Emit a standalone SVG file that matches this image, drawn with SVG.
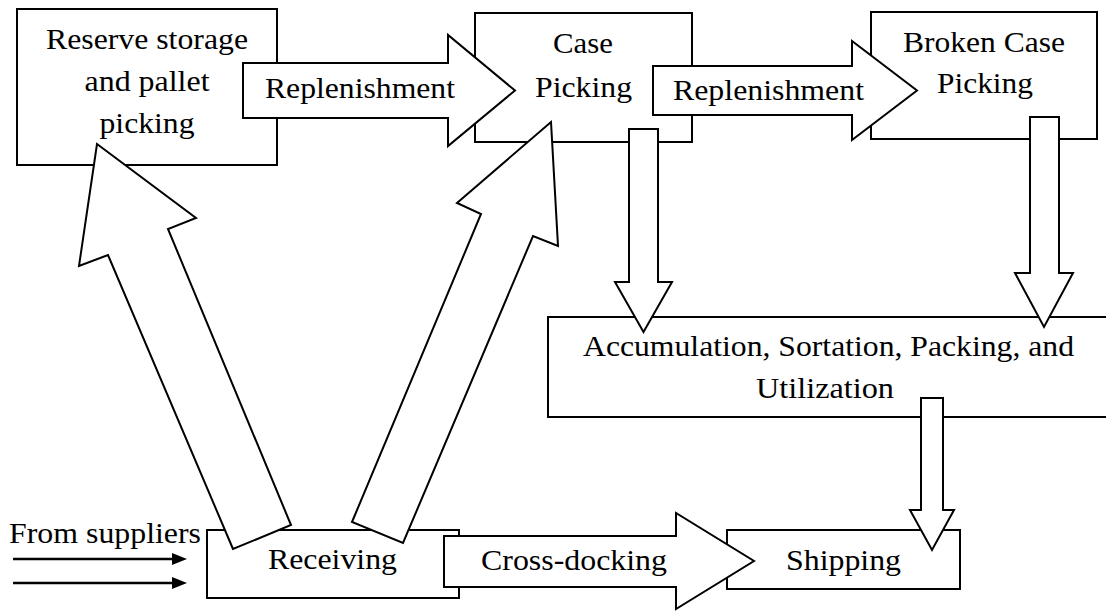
<svg xmlns="http://www.w3.org/2000/svg" width="1106" height="612" viewBox="0 0 1106 612">
<style>
.box{fill:#fff;stroke:#000;stroke-width:2}
.arr{fill:#fff;stroke:#000;stroke-width:2;stroke-linejoin:miter}
.t{font-family:"Liberation Serif","Times New Roman",serif;font-size:30px;fill:#000}
.feed{stroke:#000;stroke-width:2.5;fill:none}
</style>
<defs>
<marker id="ah" viewBox="0 0 15 12" refX="0" refY="6" markerWidth="15" markerHeight="12" markerUnits="userSpaceOnUse" orient="auto">
<path d="M0,0 L15,6 L0,12 Z" fill="#000"/>
</marker>
</defs>
<g id="reserve">
<rect class="box" x="17" y="9" width="260" height="156"/>
<text class="t" x="46" y="49" textLength="202" lengthAdjust="spacingAndGlyphs">Reserve storage</text>
<text class="t" x="84.5" y="91" textLength="125" lengthAdjust="spacingAndGlyphs">and pallet</text>
<text class="t" x="99.5" y="133" textLength="95" lengthAdjust="spacingAndGlyphs">picking</text>
</g>
<g id="case">
<rect class="box" x="475" y="13" width="217" height="129"/>
<text class="t" x="553" y="53" textLength="60" lengthAdjust="spacingAndGlyphs">Case</text>
<text class="t" x="535" y="97" textLength="97" lengthAdjust="spacingAndGlyphs">Picking</text>
</g>
<g id="broken">
<rect class="box" x="871" y="12" width="226" height="127"/>
<text class="t" x="903" y="52" textLength="162" lengthAdjust="spacingAndGlyphs">Broken Case</text>
<text class="t" x="937" y="93" textLength="96" lengthAdjust="spacingAndGlyphs">Picking</text>
</g>
<g id="accum">
<rect class="box" x="548" y="317" width="570" height="100"/>
<text class="t" x="583" y="356" textLength="491" lengthAdjust="spacingAndGlyphs">Accumulation, Sortation, Packing, and</text>
<text class="t" x="756" y="398" textLength="138" lengthAdjust="spacingAndGlyphs">Utilization</text>
</g>
<g id="receiving">
<rect class="box" x="207" y="530" width="252" height="68"/>
<text class="t" x="268" y="569" textLength="129" lengthAdjust="spacingAndGlyphs">Receiving</text>
</g>
<g id="shipping">
<rect class="box" x="727" y="530" width="233" height="59"/>
<text class="t" x="786" y="570" textLength="115" lengthAdjust="spacingAndGlyphs">Shipping</text>
</g>
<g id="suppliers">
<text class="t" x="9" y="543" textLength="192" lengthAdjust="spacingAndGlyphs">From suppliers</text>
</g>
<g id="connectors">
<line class="feed" x1="13" y1="559" x2="172" y2="559" marker-end="url(#ah)"/>
<line class="feed" x1="13" y1="583" x2="172" y2="583" marker-end="url(#ah)"/>
<polygon class="arr" points="243,63 448,63 448,35 515,90.5 448,146 448,118 243,118"/>
<text class="t" x="265" y="98" textLength="190" lengthAdjust="spacingAndGlyphs">Replenishment</text>
<polygon class="arr" points="653,66 852,66 852,41 917,90.5 852,140 852,115 653,115"/>
<text class="t" x="673" y="100" textLength="191" lengthAdjust="spacingAndGlyphs">Replenishment</text>
<polygon class="arr" points="629,129 658,129 658,282 672,282 643.5,332 615,282 629,282"/>
<polygon class="arr" points="1030,117 1059,117 1059,273 1073,273 1044,327 1015,273 1030,273"/>
<polygon class="arr" points="921,398 943,398 943,510 954,510 932,550 910,510 921,510"/>
<polygon class="arr" points="233,549 108,255 79,266 97,144 196,218 168,229 291,525"/>
<polygon class="arr" points="352,522 481,214 457,203 551,122 558,246 533,236 403,543"/>
<polygon class="arr" points="444,536 676,536 676,513 754,561 676,609 676,587 444,587"/>
<text class="t" x="481" y="570" textLength="186" lengthAdjust="spacingAndGlyphs">Cross-docking</text>
</g>
</svg>
